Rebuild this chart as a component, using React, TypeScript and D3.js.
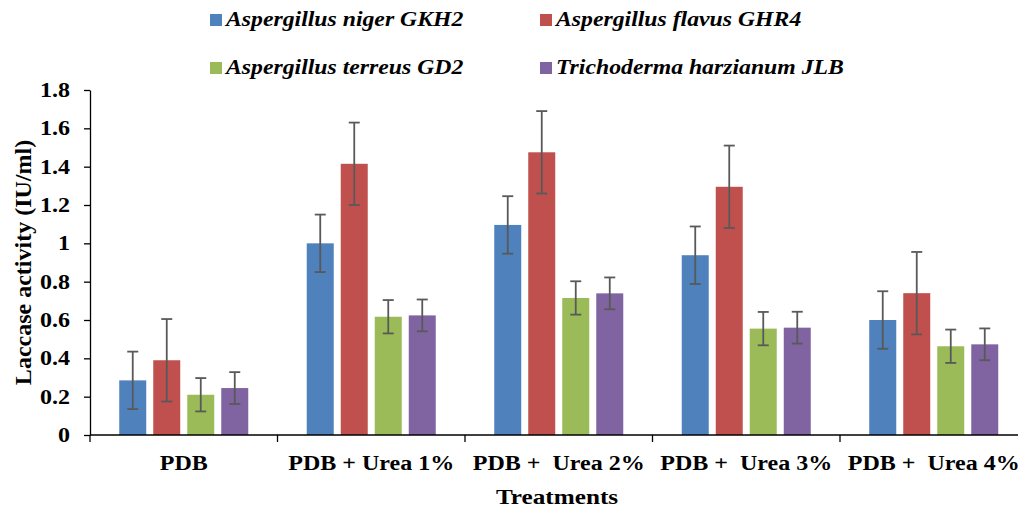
import { useRef, useEffect } from 'react';
import * as d3 from 'd3';

const WIDTH = 1018;
const HEIGHT = 508;
const MARGIN = { top: 90, left: 90, bottom: 73 };

const categories = ['PDB', 'PDB + Urea 1%', 'PDB +  Urea 2%', 'PDB +  Urea 3%', 'PDB +  Urea 4%'];
const seriesNames = [
  'Aspergillus niger GKH2',
  'Aspergillus flavus GHR4',
  'Aspergillus terreus GD2',
  'Trichoderma harzianum JLB',
];
const colors = ['#4F81BD', '#C0504D', '#9BBB59', '#8064A2'];

const nigerValues = [0.285, 1.0, 1.096, 0.938, 0.6];
const flavusValues = [0.39, 1.415, 1.475, 1.295, 0.74];
const terreusValues = [0.21, 0.617, 0.715, 0.555, 0.463];
const harzianumValues = [0.245, 0.624, 0.739, 0.56, 0.473];

const nigerErrors = [0.15, 0.15, 0.15, 0.15, 0.15];
const flavusErrors = [0.215, 0.215, 0.215, 0.215, 0.215];
const terreusErrors = [0.087, 0.087, 0.087, 0.087, 0.087];
const harzianumErrors = [0.083, 0.083, 0.083, 0.083, 0.083];

const yTicks = [0, 0.2, 0.4, 0.6, 0.8, 1, 1.2, 1.4, 1.6, 1.8];

const FONT = '"Liberation Serif", "Times New Roman", serif';

// the original picture is a bit wider than tall, so text is stretched sideways
function stretch(sel: any, k: number) {
  sel.each(function (this: SVGTextElement) {
    const len = this.getComputedTextLength();
    d3.select(this).attr('textLength', len * k).attr('lengthAdjust', 'spacingAndGlyphs');
  });
}

export default function App() {
  const svgRef = useRef<SVGSVGElement>(null);

  useEffect(() => {
    const svg = d3.select(svgRef.current);
    svg.selectAll('*').remove();

    const values = [nigerValues, flavusValues, terreusValues, harzianumValues];
    const errors = [nigerErrors, flavusErrors, terreusErrors, harzianumErrors];
    const baseY = HEIGHT - MARGIN.bottom;
    const catStep = 187.5;

    const x0 = d3.scaleBand<string>()
      .domain(categories)
      .range([MARGIN.left, MARGIN.left + catStep * categories.length])
      .padding(0);
    const x1 = d3.scaleBand<string>()
      .domain(seriesNames)
      .range([0, x0.bandwidth()])
      .paddingInner(0.206)
      .paddingOuter(0.86);
    const y = d3.scaleLinear().domain([0, 1.8]).range([baseY, MARGIN.top]);

    // Bars
    seriesNames.forEach((s, si) => {
      categories.forEach((c, ci) => {
        svg.append('rect')
          .attr('x', x0(c)! + x1(s)!)
          .attr('y', y(values[si][ci]))
          .attr('width', x1.bandwidth())
          .attr('height', baseY - y(values[si][ci]))
          .attr('fill', colors[si]);
      });
    });

    // Error bars
    seriesNames.forEach((s, si) => {
      categories.forEach((c, ci) => {
        const cx = x0(c)! + x1(s)! + x1.bandwidth() / 2;
        const v = values[si][ci];
        const e = errors[si][ci];
        const g = svg.append('g').attr('stroke', '#595959').attr('stroke-width', 1.8);
        g.append('line').attr('x1', cx).attr('x2', cx).attr('y1', y(v + e)).attr('y2', y(v - e));
        [v + e, v - e].forEach(val => {
          g.append('line').attr('x1', cx - 5.5).attr('x2', cx + 5.5).attr('y1', y(val)).attr('y2', y(val));
        });
      });
    });

    // Y axis
    const yAxis = svg.append('g').attr('transform', `translate(${MARGIN.left},0)`)
      .call(d3.axisLeft(y).tickValues(yTicks).tickSize(6).tickSizeOuter(0).tickFormat(d => String(d)));
    yAxis.select('.domain').attr('stroke', '#000').attr('stroke-width', 1.3);
    yAxis.selectAll('line').attr('stroke', '#000').attr('stroke-width', 1.3);
    const yTickText = yAxis.selectAll('text')
      .attr('font-family', FONT).attr('font-size', 20).attr('font-weight', 'bold')
      .attr('fill', '#000').attr('x', -20);
    stretch(yTickText, 1.2);

    // X axis
    const xAxisG = svg.append('g').attr('transform', `translate(0,${baseY})`);
    xAxisG.append('line').attr('x1', MARGIN.left).attr('x2', WIDTH)
      .attr('stroke', '#000').attr('stroke-width', 1.3);
    categories.forEach(c => {
      const bx = x0(c)!;
      xAxisG.append('line').attr('x1', bx).attr('x2', bx).attr('y1', 0).attr('y2', 7)
        .attr('stroke', '#000').attr('stroke-width', 1.3);
    });
    categories.forEach(c => {
      const t = xAxisG.append('text')
        .attr('x', x0(c)! + x0.bandwidth() / 2)
        .attr('y', 35)
        .attr('text-anchor', 'middle')
        .attr('font-family', FONT).attr('font-size', 20).attr('font-weight', 'bold')
        .style('white-space', 'pre')
        .text(c);
      stretch(t, 1.2);
    });

    // Axis titles
    const xTitle = svg.append('text')
      .attr('x', 557).attr('y', 504)
      .attr('text-anchor', 'middle')
      .attr('font-family', FONT).attr('font-size', 21).attr('font-weight', 'bold')
      .text('Treatments');
    stretch(xTitle, 1.2);
    svg.append('text')
      .attr('transform', `translate(31,${(MARGIN.top + baseY) / 2}) rotate(-90)`)
      .attr('text-anchor', 'middle')
      .attr('font-family', FONT).attr('font-size', 24).attr('font-weight', 'bold')
      .text('Laccase activity (IU/ml)');

    // Legend
    const legendPos = [[210, 26], [540, 26], [210, 74], [540, 74]];
    seriesNames.forEach((s, i) => {
      const [lx, ly] = legendPos[i];
      svg.append('rect').attr('x', lx).attr('y', ly - 12).attr('width', 12).attr('height', 12)
        .attr('fill', colors[i]);
      const t = svg.append('text')
        .attr('x', lx + 16).attr('y', ly)
        .attr('font-family', FONT).attr('font-size', 21)
        .attr('font-weight', 'bold').attr('font-style', 'italic')
        .text(s);
      stretch(t, 1.13);
    });
  }, []);

  return (
    <svg ref={svgRef} width={WIDTH} height={HEIGHT}
      style={{ position: 'absolute', left: 0, top: 0, background: '#fff' }} />
  );
}
